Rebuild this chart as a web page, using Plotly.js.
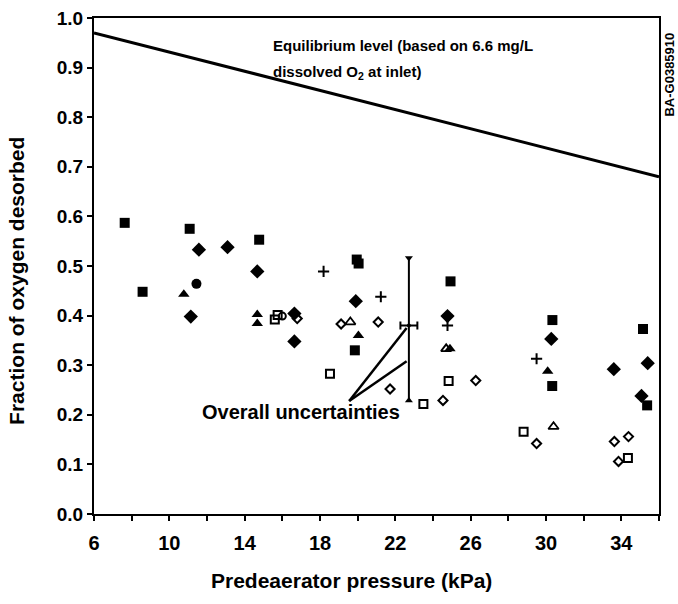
<!DOCTYPE html>
<html>
<head>
<meta charset="utf-8">
<script src="https://cdn.plot.ly/plotly-3.0.1.min.js"></script>
<style>html,body{margin:0;padding:0;background:#fff;}#chart{width:678px;height:604px;}</style>
</head>
<body>
<div id="chart"></div>
<script>
// Equilibrium level line
const eqX = [6, 36];
const eqY = [0.97, 0.68];

// Filled squares
const fSquareX = [7.63, 8.58, 11.08, 14.77, 19.95, 20.05, 19.85, 24.93, 30.34, 30.33, 35.15, 35.37];
const fSquareY = [0.587, 0.448, 0.575, 0.553, 0.513, 0.505, 0.330, 0.469, 0.391, 0.258, 0.373, 0.219];

// Filled diamonds
const fDiamondX = [11.14, 11.57, 13.09, 14.67, 16.64, 16.64, 19.90, 24.77, 30.28, 33.60, 35.40, 35.07];
const fDiamondY = [0.398, 0.533, 0.538, 0.489, 0.404, 0.348, 0.429, 0.399, 0.353, 0.292, 0.304, 0.238];

// Filled circles
const fCircleX = [11.44];
const fCircleY = [0.464];

// Filled triangles
const fTriX = [10.77, 14.67, 14.67, 20.04, 24.90, 30.09];
const fTriY = [0.443, 0.402, 0.384, 0.360, 0.333, 0.288];

// Plus signs
const plusX = [18.19, 21.23, 24.77, 29.50];
const plusY = [0.489, 0.438, 0.380, 0.313];

// Open squares
const oSquareX = [15.60, 15.75, 18.53, 24.83, 23.49, 28.81, 34.35];
const oSquareY = [0.392, 0.401, 0.283, 0.268, 0.222, 0.166, 0.113];

// Open circles
const oCircleX = [16.0];
const oCircleY = [0.399];

// Open diamonds
const oDiamondX = [16.79, 19.12, 21.09, 21.72, 24.53, 26.27, 29.50, 33.63, 34.38, 33.85];
const oDiamondY = [0.394, 0.383, 0.387, 0.252, 0.229, 0.269, 0.142, 0.146, 0.156, 0.106];

// Open triangles
const oTriX = [19.61, 24.70, 30.40];
const oTriY = [0.387, 0.333, 0.176];

// Overall uncertainty bar
const uncX = [22.72];
const uncY = [0.38];
const uncUp = [0.136];
const uncDown = [0.151];
const uncXErr = [0.45];
const uncCapX = [22.72, 22.72];
const uncCapY = [0.516, 0.229];

const xTicks = [6, 10, 14, 18, 22, 26, 30, 34];

const FONT = 'Liberation Sans, Arial, Helvetica, sans-serif';

function mk(x, y, symbol, size, lw) {
  return {
    x: x, y: y, type: 'scatter', mode: 'markers', hoverinfo: 'skip',
    marker: {symbol: symbol, size: size, color: 'black', line: {color: 'black', width: lw}}
  };
}

const traces = [
  {x: eqX, y: eqY, type: 'scatter', mode: 'lines', line: {color: 'black', width: 3}, hoverinfo: 'skip'},
  mk(fSquareX, fSquareY, 'square', 10, 0),
  mk(fDiamondX, fDiamondY, 'diamond', 11, 0),
  mk(fCircleX, fCircleY, 'circle', 10, 0),
  mk(fTriX, fTriY, 'triangle-up', 10, 0),
  mk(plusX, plusY, 'cross-thin-open', 8, 2),
  mk(oSquareX, oSquareY, 'square-open', 8, 2),
  mk(oCircleX, oCircleY, 'circle-open', 7, 2),
  mk(oDiamondX, oDiamondY, 'diamond-open', 7, 2),
  mk(oTriX, oTriY, 'triangle-up-open', 9, 1.8),
  {
    x: uncX, y: uncY, type: 'scatter', mode: 'markers', hoverinfo: 'skip',
    marker: {size: 4, color: 'black'},
    error_y: {type: 'data', symmetric: false, array: uncUp, arrayminus: uncDown, color: 'black', thickness: 2, width: 0},
    error_x: {type: 'data', array: uncXErr, color: 'black', thickness: 2, width: 4}
  },
  {
    x: uncCapX, y: uncCapY, type: 'scatter', mode: 'markers', hoverinfo: 'skip',
    marker: {symbol: ['triangle-down', 'triangle-up'], size: 7, color: 'black'}
  }
];

const layout = {
  width: 678, height: 604,
  margin: {l: 94, r: 19, t: 18, b: 90},
  paper_bgcolor: 'white', plot_bgcolor: 'white',
  showlegend: false,
  font: {family: FONT, color: 'black', weight: 'bold'},
  xaxis: {
    range: [6, 36], tickvals: xTicks, showgrid: false, zeroline: false,
    showline: true, mirror: true, linecolor: 'black', linewidth: 2,
    ticks: 'outside', ticklen: 5, tickwidth: 2, tickcolor: 'black',
    ticklabelstandoff: 5,
    minor: {tick0: 6, dtick: 2, ticks: 'outside', ticklen: 5, tickwidth: 2, tickcolor: 'black'},
    tickfont: {size: 20, family: FONT, weight: 'bold'}
  },
  yaxis: {
    range: [0, 1.0], dtick: 0.1, tick0: 0, tickformat: '.1f', showgrid: false, zeroline: false,
    showline: true, mirror: true, linecolor: 'black', linewidth: 2,
    ticks: 'outside', ticklen: 5, tickwidth: 2, tickcolor: 'black',
    tickfont: {size: 19, family: FONT, weight: 'bold'}
  },
  shapes: [
    {type: 'line', xref: 'x', yref: 'y', x0: 19.55, y0: 0.228, x1: 22.6, y1: 0.375, line: {color: 'black', width: 2.5}},
    {type: 'line', xref: 'x', yref: 'y', x0: 19.55, y0: 0.228, x1: 22.6, y1: 0.308, line: {color: 'black', width: 2.5}}
  ],
  annotations: [
    {x: 0.455, y: -0.135, xref: 'paper', yref: 'paper', xanchor: 'center', yanchor: 'middle', showarrow: false,
     text: 'Predeaerator pressure (kPa)', font: {size: 21, family: FONT, weight: 'bold'}},
    {x: 17, y: 0.47, xref: 'paper', yref: 'paper', xanchor: 'center', yanchor: 'middle', showarrow: false,
     textangle: -90, text: 'Fraction of oxygen desorbed', font: {size: 21, family: FONT, weight: 'bold'}},
    {x: 15.4, y: 0.945, xref: 'x', yref: 'y', xanchor: 'left', yanchor: 'middle', showarrow: false,
     text: 'Equilibrium level (based on 6.6 mg/L', font: {size: 15, family: FONT, weight: 'bold'}},
    {x: 15.4, y: 0.89, xref: 'x', yref: 'y', xanchor: 'left', yanchor: 'middle', showarrow: false,
     text: 'dissolved O<sub>2</sub> at inlet)', font: {size: 15, family: FONT, weight: 'bold'}},
    {x: 11.63, y: 0.205, xref: 'x', yref: 'y', xanchor: 'left', yanchor: 'middle', showarrow: false,
     text: 'Overall uncertainties', font: {size: 20, family: FONT, weight: 'bold'}},
    {x: 1, y: 0.885, xref: 'paper', yref: 'paper', xanchor: 'left', yanchor: 'middle', xshift: 1,
     showarrow: false, textangle: -90, text: 'BA-G0385910', font: {size: 13, family: FONT, weight: 'bold'}}
  ]
};
// y title x position in paper units from pixel 17
layout.annotations[1].x = (17 - 94) / (678 - 94 - 19);

Plotly.newPlot('chart', traces, layout, {staticPlot: true, displayModeBar: false});
</script>
</body>
</html>
